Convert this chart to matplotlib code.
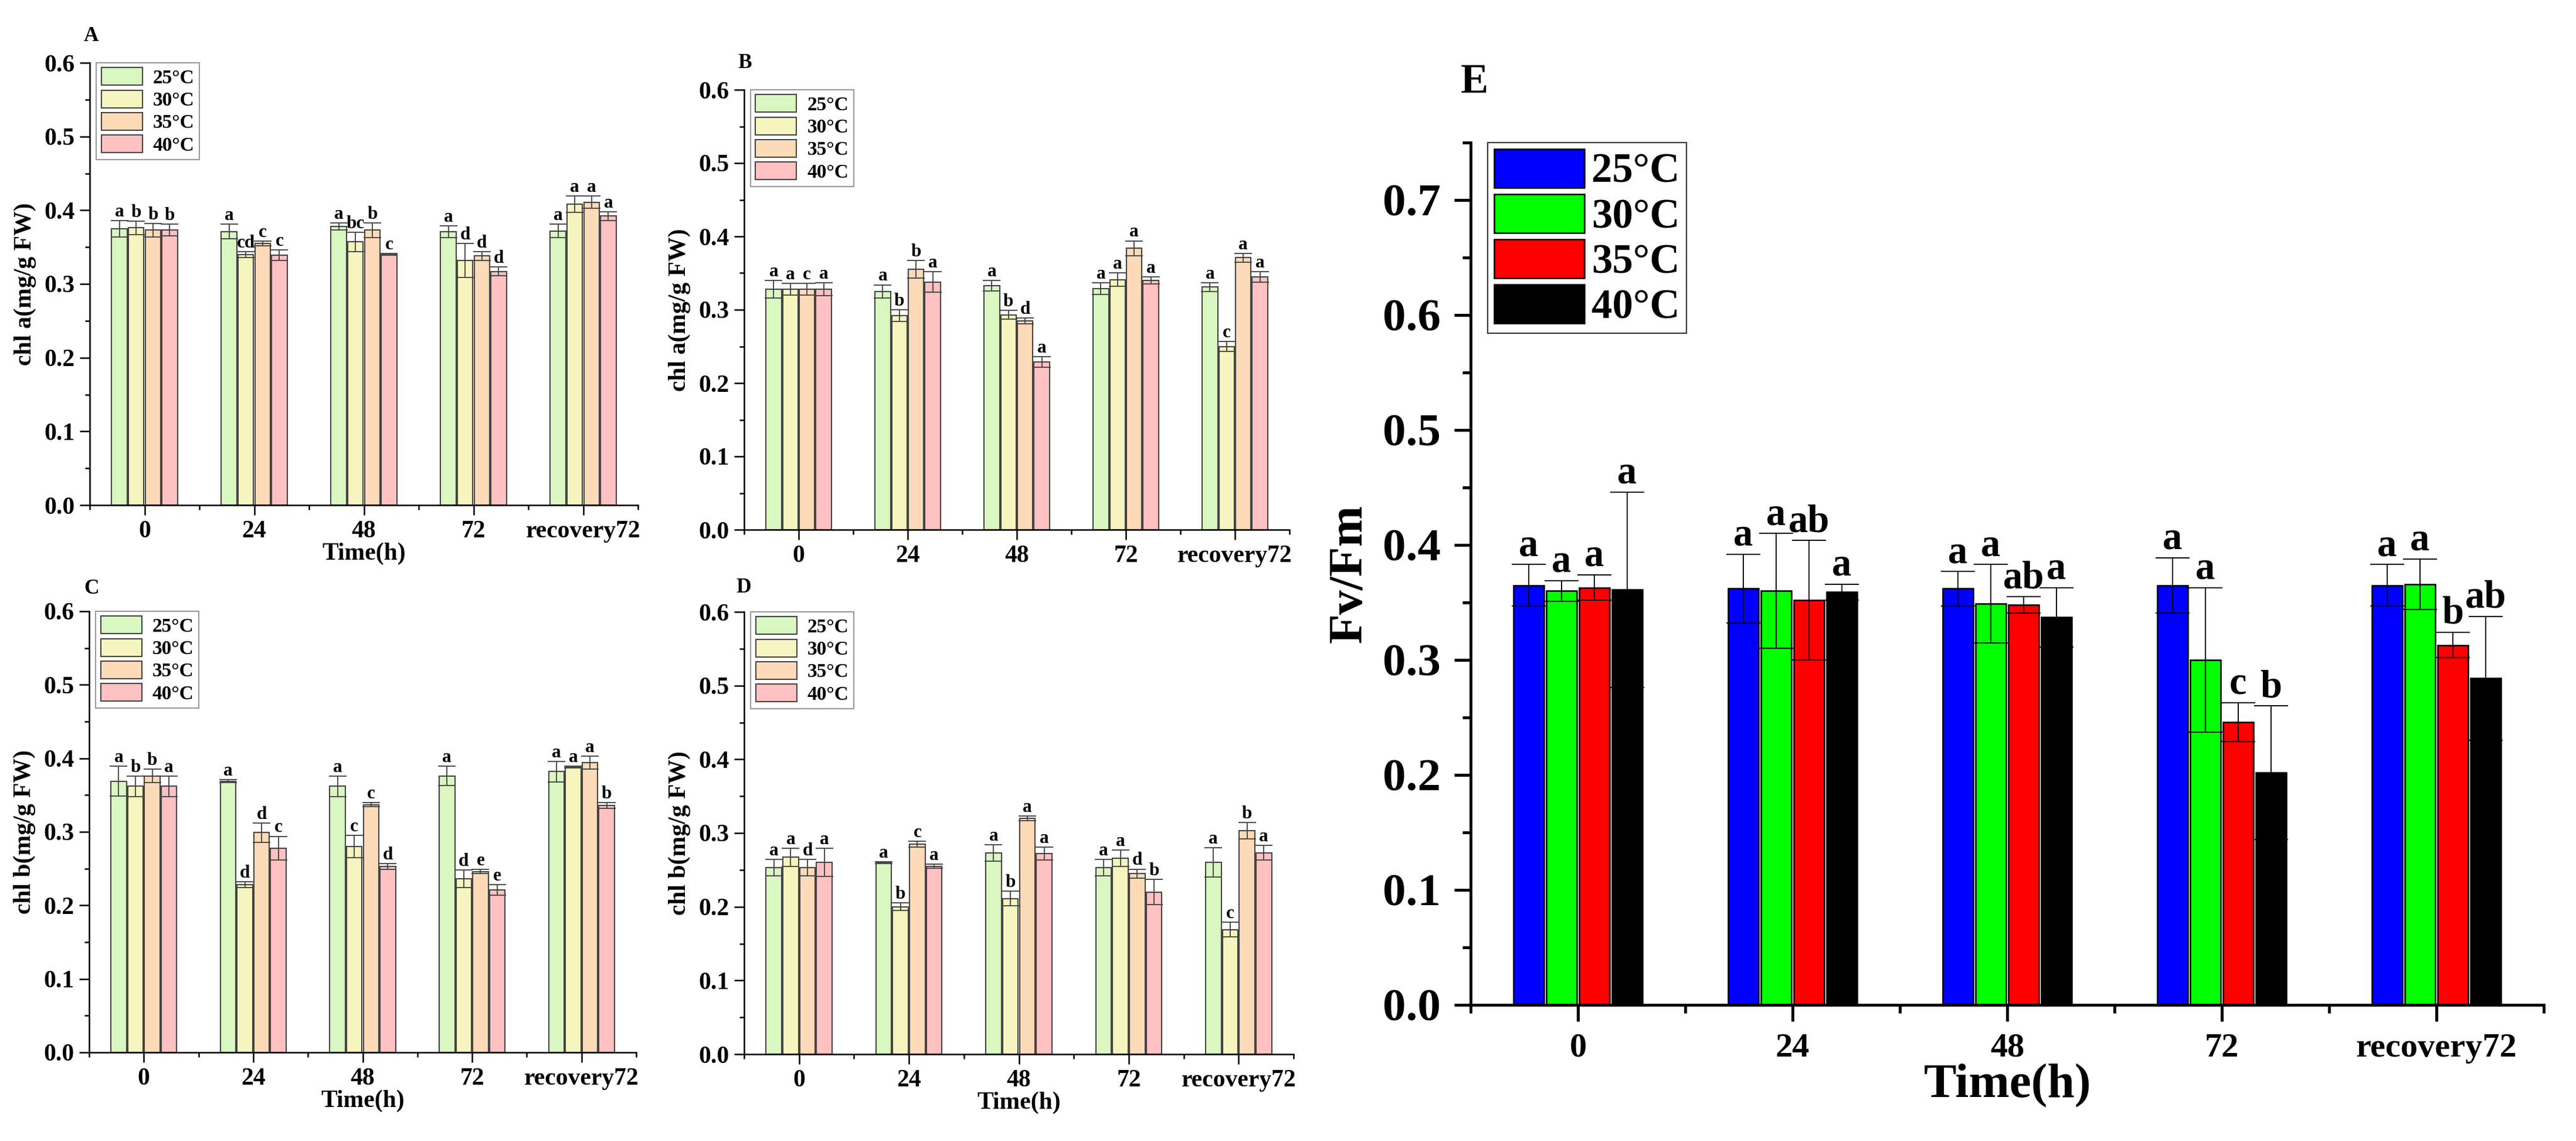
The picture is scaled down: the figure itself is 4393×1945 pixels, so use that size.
import numpy as np
import matplotlib
matplotlib.use("Agg")
import matplotlib.pyplot as plt
from matplotlib.ticker import MultipleLocator, FormatStrFormatter

# Times-like bold font everywhere
plt.rcParams['font.family'] = ['Liberation Serif', 'DejaVu Serif']
plt.rcParams['font.weight'] = 'bold'
plt.rcParams['axes.labelweight'] = 'bold'

times = ["0", "24", "48", "72", "recovery72"]
temps = ["25°C", "30°C", "35°C", "40°C"]

# ---- panel A: chl a ----
a_mean = [[0.375, 0.371, 0.378, 0.371, 0.372],
          [0.376, 0.340, 0.357, 0.332, 0.408],
          [0.373, 0.355, 0.373, 0.338, 0.411],
          [0.373, 0.339, 0.340, 0.317, 0.392]]
a_err = [[0.011, 0.010, 0.005, 0.008, 0.009],
         [0.009, 0.004, 0.013, 0.023, 0.011],
         [0.009, 0.003, 0.010, 0.006, 0.008],
         [0.008, 0.007, 0.001, 0.006, 0.006]]
a_let = [["a", "b", "b", "b"], ["a", "cd", "c", "c"], ["a", "bc", "b", "c"],
         ["a", "d", "d", "d"], ["a", "a", "a", "a"]]

# ---- panel B: chl a ----
b_mean = [[0.328, 0.325, 0.333, 0.329, 0.331],
          [0.328, 0.292, 0.293, 0.341, 0.250],
          [0.328, 0.355, 0.285, 0.384, 0.371],
          [0.328, 0.338, 0.229, 0.340, 0.345]]
b_err = [[0.012, 0.009, 0.007, 0.008, 0.006],
         [0.008, 0.008, 0.006, 0.009, 0.007],
         [0.008, 0.012, 0.004, 0.010, 0.006],
         [0.009, 0.014, 0.007, 0.005, 0.007]]
b_let = [["a", "a", "c", "a"], ["a", "b", "b", "a"], ["a", "b", "d", "a"],
         ["a", "a", "a", "a"], ["a", "c", "a", "a"]]

# ---- panel C: chl b ----
c_mean = [[0.369, 0.369, 0.362, 0.376, 0.382],
          [0.362, 0.228, 0.280, 0.236, 0.388],
          [0.376, 0.299, 0.337, 0.246, 0.394],
          [0.362, 0.278, 0.253, 0.221, 0.336]]
c_err = [[0.020, 0.002, 0.014, 0.013, 0.014],
         [0.014, 0.004, 0.015, 0.012, 0.001],
         [0.009, 0.013, 0.003, 0.003, 0.009],
         [0.014, 0.016, 0.004, 0.007, 0.004]]
c_let = [["a", "b", "b", "a"], ["a", "d", "d", "c"], ["a", "c", "c", "d"],
         ["a", "d", "e", "e"], ["a", "a", "a", "b"]]

# ---- panel D: chl b ----
d_mean = [[0.253, 0.260, 0.273, 0.253, 0.260],
          [0.267, 0.200, 0.211, 0.266, 0.169],
          [0.253, 0.285, 0.320, 0.245, 0.303],
          [0.260, 0.255, 0.272, 0.220, 0.273]]
d_err = [[0.011, 0.001, 0.011, 0.011, 0.020],
         [0.012, 0.005, 0.010, 0.011, 0.010],
         [0.011, 0.004, 0.003, 0.006, 0.011],
         [0.019, 0.003, 0.009, 0.017, 0.010]]
d_let = [["a", "a", "d", "a"], ["a", "b", "c", "a"], ["a", "b", "a", "a"],
         ["a", "a", "d", "b"], ["a", "c", "b", "a"]]

# ---- panel E: Fv/Fm ----
e_mean = [[0.365, 0.362, 0.362, 0.365, 0.365],
          [0.360, 0.360, 0.349, 0.300, 0.366],
          [0.363, 0.352, 0.348, 0.246, 0.313],
          [0.361, 0.359, 0.337, 0.202, 0.284]]
e_err = [[0.018, 0.030, 0.015, 0.024, 0.018],
         [0.009, 0.050, 0.034, 0.063, 0.022],
         [0.011, 0.052, 0.007, 0.017, 0.011],
         [0.085, 0.007, 0.026, 0.058, 0.054]]
e_let = [["a", "a", "a", "a"], ["a", "a", "ab", "a"], ["a", "a", "ab", "a"],
         ["a", "a", "c", "b"], ["a", "a", "b", "ab"]]

pastel = ["#d9f7c1", "#f7f5bf", "#fddab8", "#ffc1c1"]
bright = ["#0000ff", "#00ff00", "#ff0000", "#000000"]

W, H = 4393, 1945
fig = plt.figure(figsize=(W / 300, H / 300), dpi=300)


def box(l, t, r, b):
    # pixel box -> figure fraction
    return [l / W, 1 - b / H, (r - l) / W, (b - t) / H]


small = dict(tick_fs=10, lab_fs=10, let_fs=7.5, leg_fs=8, lw=0.6, edge="#444444",
             edge_lw=0.5, ecolor="#444444", elw=0.45, cap=3.6, lift=1.7,
             maj=4, mino=2, ypad=2.2, xpad=2.2, ylabpad=3, xlabpad=0,
             hl=2.1, hh=1.0, ls=0.15, bp=0.25, htp=0.55, leg_edge="#999999",
             leg_x=0.012, step=0.05)
big = dict(tick_fs=19, xtick_fs=14, lab_fs=20, let_fs=16, leg_fs=17, lw=1.2, edge="black",
           edge_lw=0.6, ecolor="black", elw=0.45, cap=7, lift=3.6,
           maj=6.7, mino=3.4, ypad=5.5, xpad=4.8, ylabpad=4.5, xlabpad=0,
           hl=2.17, hh=1.06, ls=0.07, bp=0.15, htp=0.18, leg_edge="#333333",
           leg_x=0.016, step=0.05)


def draw_panel(ax, mean, err, let, colors, st, ylabel, ymax, xlabel=True):
    x = np.arange(len(times))
    for i in range(4):
        pos = x + (i - 1.5) * 0.153
        ax.bar(pos, mean[i], width=0.142, color=colors[i], edgecolor=st["edge"],
               linewidth=st["edge_lw"], label=temps[i], zorder=2)
        ax.errorbar(pos, mean[i], yerr=err[i], fmt="none", ecolor=st["ecolor"],
                    elinewidth=st["elw"], capsize=st["cap"], capthick=st["elw"], zorder=3)
        for j in range(len(times)):
            ax.annotate(let[j][i], (pos[j], mean[i][j] + err[i][j]),
                        xytext=(0, st["lift"]), textcoords="offset points",
                        ha="center", va="baseline", fontsize=st["let_fs"],
                        fontweight="bold", zorder=4)

    ax.set_xlim(-0.5, 4.5)
    ax.set_ylim(0, ymax)
    ax.set_xticks(x)
    ax.set_xticklabels(times)
    ax.set_xticks(np.arange(-0.5, 5, 1), minor=True)
    ax.yaxis.set_major_locator(MultipleLocator(0.1))
    ax.yaxis.set_minor_locator(MultipleLocator(st["step"]))
    ax.yaxis.set_major_formatter(FormatStrFormatter("%.1f"))

    for s in ["top", "right"]:
        ax.spines[s].set_visible(False)
    for s in ["left", "bottom"]:
        ax.spines[s].set_linewidth(st["lw"])

    ax.tick_params(which="both", direction="out", width=st["lw"])
    ax.tick_params(which="major", length=st["maj"])
    ax.tick_params(which="minor", length=st["mino"])
    ax.tick_params(axis="y", which="major", labelsize=st["tick_fs"], pad=st["ypad"])
    ax.tick_params(axis="x", which="major", labelsize=st.get("xtick_fs", st["tick_fs"]),
                   pad=st["xpad"])

    ax.set_ylabel(ylabel, fontsize=st["lab_fs"], labelpad=st["ylabpad"])
    if xlabel:
        ax.set_xlabel("Time(h)", fontsize=st["lab_fs"], labelpad=st["xlabpad"])

    leg = ax.legend(loc="upper left", bbox_to_anchor=(st["leg_x"], 1.0), borderaxespad=0,
                    fontsize=st["leg_fs"], handlelength=st["hl"], handleheight=st["hh"],
                    labelspacing=st["ls"], borderpad=st["bp"], handletextpad=st["htp"],
                    fancybox=False, framealpha=1)
    leg.get_frame().set_edgecolor(st["leg_edge"])
    leg.get_frame().set_linewidth(0.5)


axA = fig.add_axes(box(153, 107, 1088, 861))
draw_panel(axA, a_mean, a_err, a_let, pastel, small, "chl a(mg/g FW)", 0.6)

axB = fig.add_axes(box(1269, 153, 2199, 903))
draw_panel(axB, b_mean, b_err, b_let, pastel, small, "chl a(mg/g FW)", 0.6, xlabel=False)

axC = fig.add_axes(box(152, 1042, 1085, 1794))
draw_panel(axC, c_mean, c_err, c_let, pastel, small, "chl b(mg/g FW)", 0.6)

axD = fig.add_axes(box(1269, 1043, 2206, 1797))
draw_panel(axD, d_mean, d_err, d_let, pastel, small, "chl b(mg/g FW)", 0.6)

axE = fig.add_axes(box(2508, 243, 4338, 1713))
draw_panel(axE, e_mean, e_err, e_let, bright, big, "Fv/Fm", 0.75)

# panel letters
for lab, px, py, fs in [("A", 143, 61, 8.5), ("B", 1258, 107, 8.5), ("C", 143, 1004, 8.5),
                        ("D", 1255, 1001, 8.5), ("E", 2491, 140, 17)]:
    fig.text(px / W, 1 - py / H, lab, ha="left", va="center", fontsize=fs, fontweight="bold")

plt.savefig("out.png", dpi=300)
